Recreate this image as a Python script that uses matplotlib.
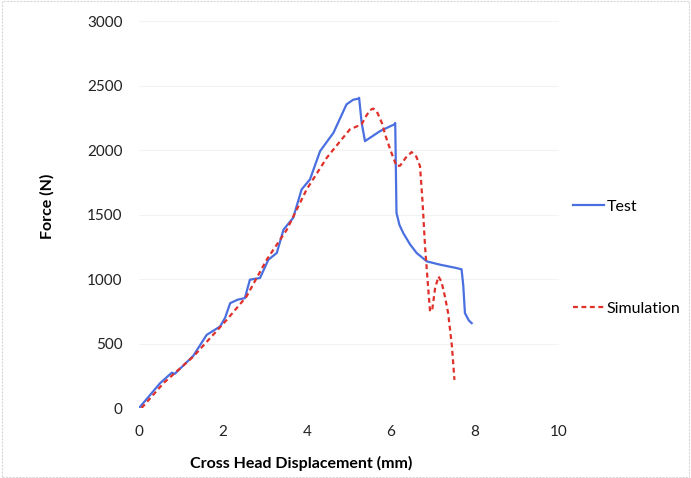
import matplotlib
matplotlib.use("Agg")
import matplotlib.pyplot as plt
from matplotlib.patches import Rectangle

test_x = [0.0, 0.5, 0.78, 0.85, 1.29, 1.61, 1.93, 2.05, 2.17, 2.35, 2.52, 2.64, 2.88, 3.08, 3.28,
          3.44, 3.67, 3.87, 4.07, 4.31, 4.63, 4.94, 5.10, 5.22, 5.24, 5.30, 5.38, 5.74, 6.08, 6.10,
          6.13, 6.20, 6.29, 6.45, 6.61, 6.85, 7.17, 7.56, 7.64, 7.68, 7.72, 7.76, 7.85, 7.92]
test_y = [0, 192, 274, 265, 404, 567, 632, 700, 813, 840, 852, 995, 1008, 1150, 1202,
          1383, 1474, 1694, 1772, 1991, 2134, 2354, 2390, 2398, 2405, 2212, 2069, 2147, 2199, 2210,
          1513, 1420, 1357, 1270, 1202, 1137, 1111, 1085, 1078, 1075, 950, 736, 680, 658]

sim_x = [0.06, 0.58, 1.29, 2.09, 2.56, 3.04, 3.52, 3.99, 4.47, 4.63, 5.02, 5.30, 5.40, 5.50, 5.58,
         5.66, 5.78, 5.88, 5.98, 6.13, 6.22, 6.35, 6.49, 6.60, 6.69, 6.75, 6.81, 6.88, 6.93, 6.98,
         7.05, 7.13, 7.20, 7.28, 7.36, 7.45, 7.51]
sim_y = [0, 192, 398, 684, 865, 1150, 1383, 1694, 1940, 2005, 2160, 2199, 2260, 2310, 2321,
         2300, 2212, 2100, 2005, 1875, 1880, 1940, 1984, 1950, 1875, 1600, 1253, 950, 748, 760,
         930, 1020, 980, 870, 736, 480, 218]

x_ticks = [0, 2, 4, 6, 8, 10]
y_ticks = [0, 500, 1000, 1500, 2000, 2500, 3000]

plt.rcParams['font.family'] = ['Lato', 'DejaVu Sans']

fig = plt.figure(figsize=(6.91, 4.78), dpi=100)
ax = fig.add_axes([0.2012, 0.1464, 0.6078, 0.8096])

ax.plot(test_x, test_y, color='#4a6fe0', lw=1.6, label='Test')
ax.plot(sim_x, sim_y, color='#e0302a', lw=1.6, ls=(0, (2.2, 1.6)), label='Simulation')

ax.set_xlim(0, 10)
ax.set_ylim(0, 3000)
ax.set_xticks(x_ticks)
ax.set_yticks(y_ticks)
ax.tick_params(length=0, labelsize=11, colors='#222222', pad=12)
for s in ax.spines.values():
    s.set_visible(False)
ax.grid(axis='y', color='#f3f3f3', lw=0.8)
ax.set_axisbelow(True)

ax.set_xlabel('Cross Head Displacement (mm)', fontsize=11.5, fontweight='bold')
ax.set_ylabel('Force (N)', fontsize=11.5, fontweight='bold')
ax.xaxis.set_label_coords(0.385, -0.125)
ax.yaxis.set_label_coords(-0.20, 0.52)

leg = ax.legend(loc='upper left', bbox_to_anchor=(1.0, 0.575), frameon=False, fontsize=11.5,
                handlelength=1.9, handletextpad=0.2, labelspacing=5.5)

fig.patches.append(Rectangle((0.003, 0.003), 0.994, 0.994, transform=fig.transFigure,
                             fill=False, ec='#d8d8d8', lw=0.8, ls=(0, (2, 1))))

fig.savefig('out.png', dpi=100)
